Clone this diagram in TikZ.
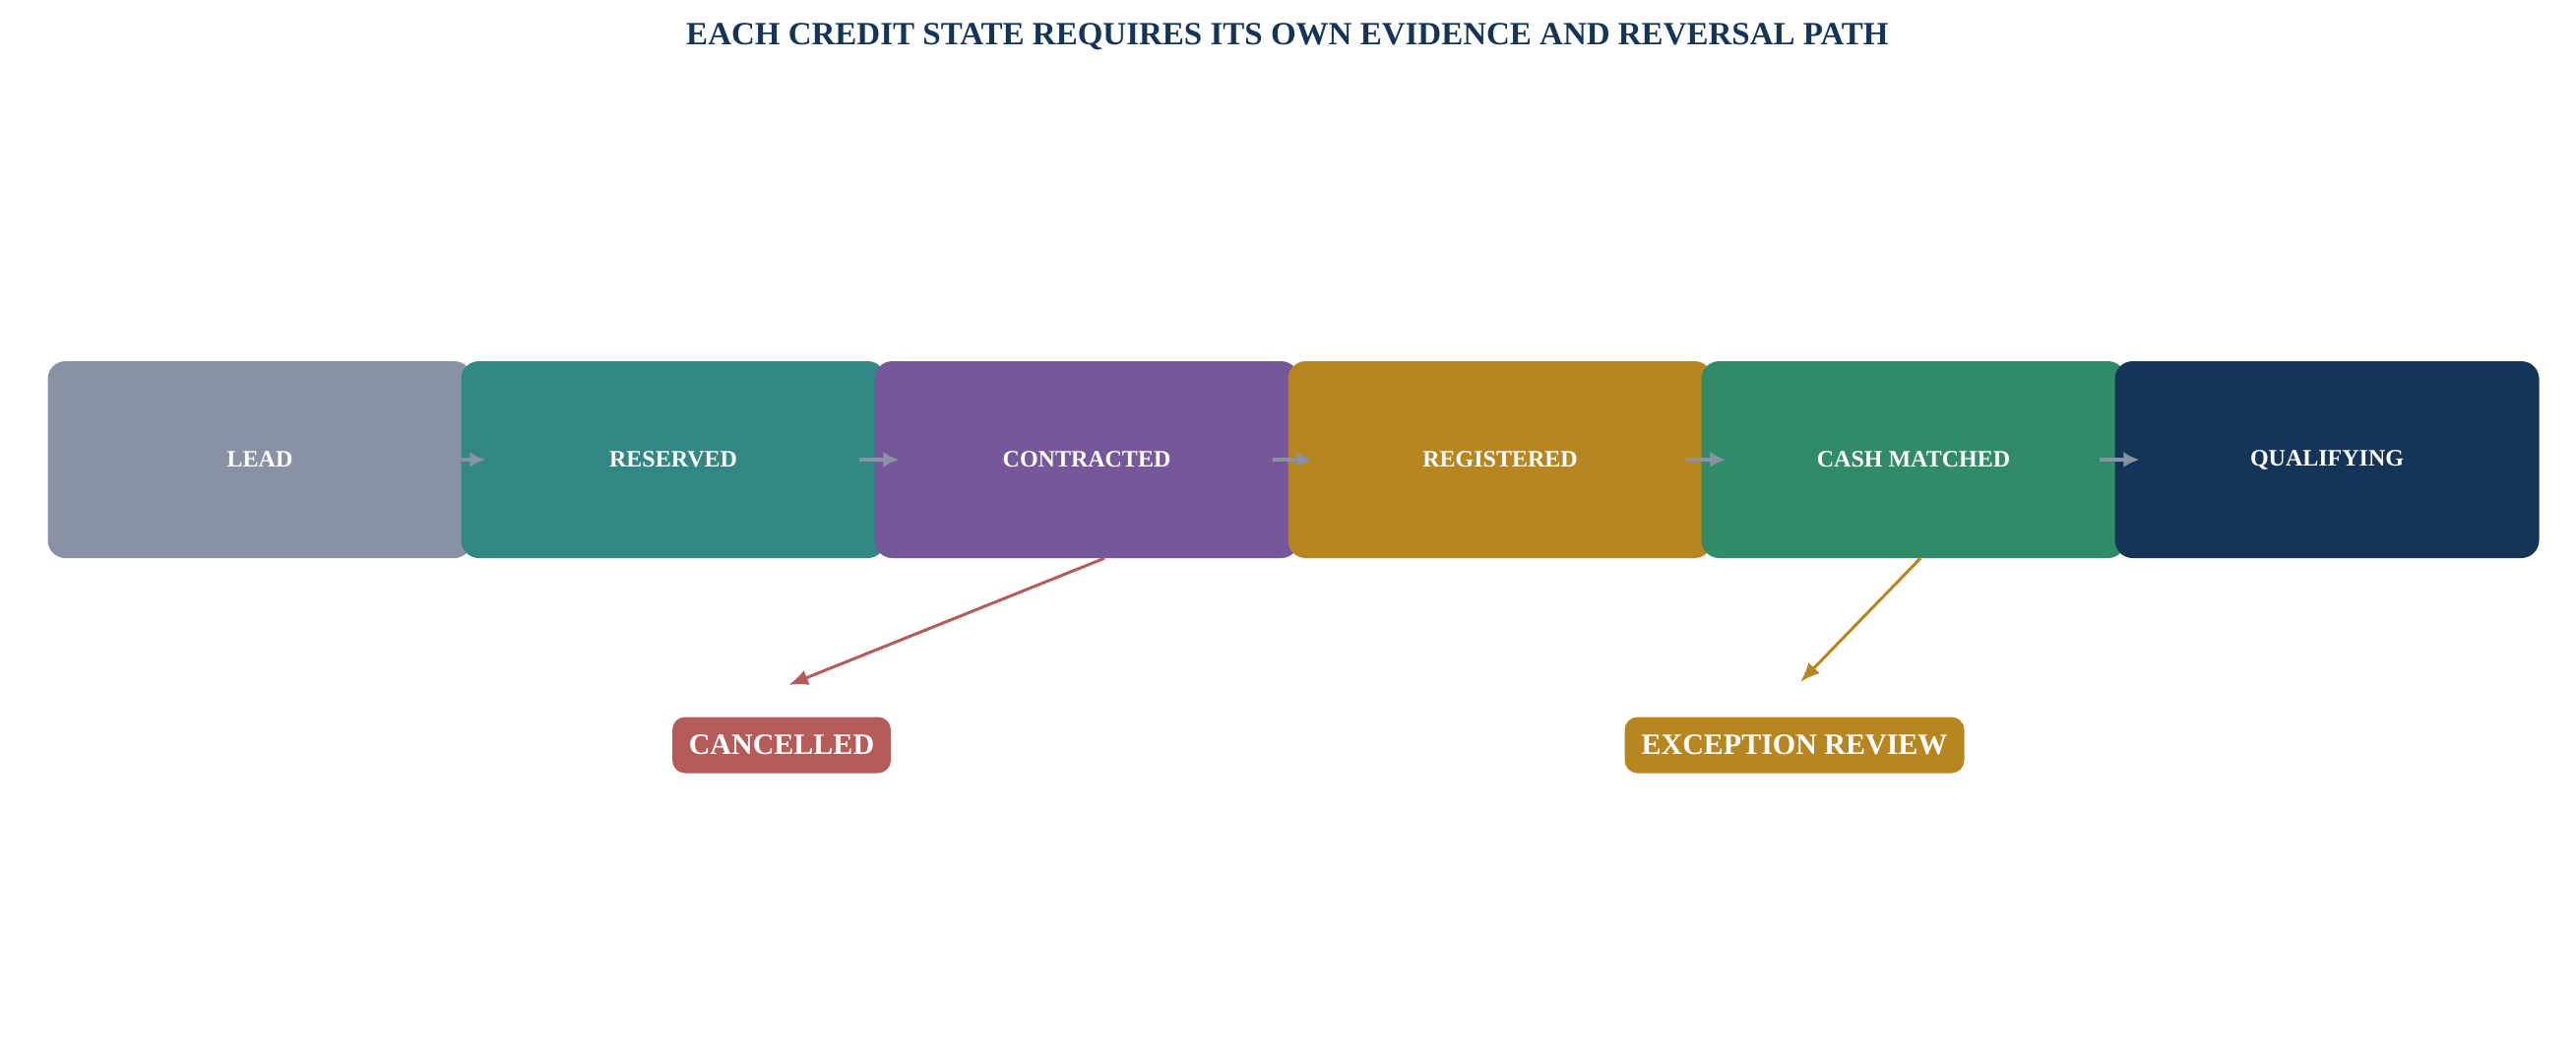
\documentclass[tikz,border=0pt]{standalone}
\usepackage{fontspec}
\setmainfont{Liberation Serif}
\usepackage{xcolor}
\usepackage{tikz}
\usetikzlibrary{positioning, arrows.meta}

\definecolor{leadgray}{HTML}{8892A4}
\definecolor{resteal}{HTML}{318784}
\definecolor{conpurple}{HTML}{76589A}
\definecolor{reggold}{HTML}{B88620}
\definecolor{cashgreen}{HTML}{318B69}
\definecolor{qualnavy}{HTML}{143557}
\definecolor{cancelred}{HTML}{B55B5A}

\begin{document}
\begin{tikzpicture}[x=1pt,y=-1pt]
					\tikzstyle{state}=[rounded corners=18pt,minimum width=431pt,minimum height=200pt,inner sep=0pt,text=white,font=\fontsize{24}{28}\selectfont\bfseries]
					\tikzstyle{exitbox}=[rounded corners=13pt,minimum height=57pt,inner sep=0pt,text=white,font=\fontsize{30}{34}\selectfont\bfseries]
					\tikzstyle{flow}=[-{Latex[length=16pt,width=16pt]},leadgray,line width=4pt]
					\tikzstyle{reversal}=[-{Latex[length=20pt,width=16pt]},line width=3pt]
					\useasboundingbox (0,0) rectangle (2617,1078);
					\node[text=qualnavy,font=\fontsize{33}{38}\selectfont\bfseries](title) at (1308,37){EACH CREDIT STATE REQUIRES ITS OWN EVIDENCE AND REVERSAL PATH};
					\node[state,fill=leadgray](lead) at (264,467){LEAD};
					\node[state,fill=resteal,right=-11.4pt of lead](reserved){RESERVED};
					\node[state,fill=conpurple,right=-11.4pt of reserved](contracted){CONTRACTED};
					\node[state,fill=reggold,right=-11.4pt of contracted](registered){REGISTERED};
					\node[state,fill=cashgreen,right=-11.4pt of registered](cash){CASH MATCHED};
					\node[state,fill=qualnavy,right=-11.4pt of cash](qualifying){QUALIFYING};
					\node[exitbox,fill=cancelred,minimum width=222pt](cancelled) at (794,757){CANCELLED};
					\node[exitbox,fill=reggold,minimum width=345pt](exception) at (1823,757){EXCEPTION REVIEW};
					\coordinate (cancelTip) at (801,696);
					\coordinate (exceptTip) at (1829,693);
					\draw[flow] ([xshift=-27pt]lead.east) -- ([xshift=25pt]reserved.west);
					\draw[flow] ([xshift=-27pt]reserved.east) -- ([xshift=25pt]contracted.west);
					\draw[flow] ([xshift=-27pt]contracted.east) -- ([xshift=25pt]registered.west);
					\draw[flow] ([xshift=-27pt]registered.east) -- ([xshift=25pt]cash.west);
					\draw[flow] ([xshift=-27pt]cash.east) -- ([xshift=25pt]qualifying.west);
					\draw[reversal,cancelred] ([xshift=18pt]contracted.south) -- (cancelTip);
					\draw[reversal,reggold] ([xshift=7pt]cash.south) -- (exceptTip);
				\end{tikzpicture}
\end{document}
